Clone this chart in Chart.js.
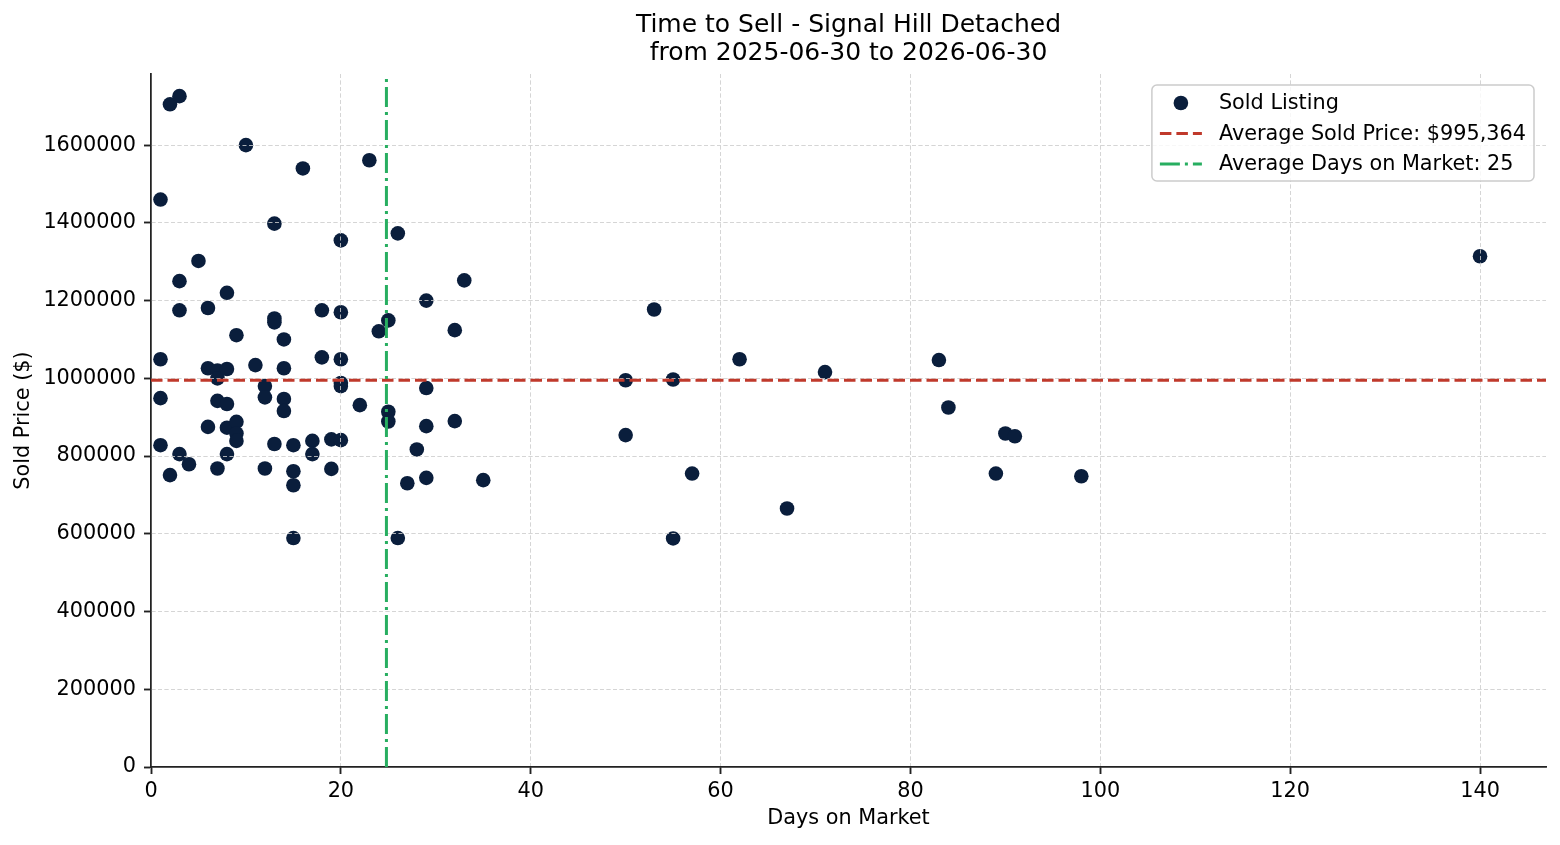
<!DOCTYPE html>
<html>
<head>
<meta charset="utf-8">
<title>Time to Sell - Signal Hill Detached</title>
<script src="https://cdn.jsdelivr.net/npm/chart.js@4.4.1/dist/chart.umd.min.js"></script>
<style>
  html, body { margin: 0; padding: 0; background: #fff; }
  #wrap { width: 1560px; height: 845px; }
</style>
</head>
<body>
<div id="wrap"><canvas id="myChart" width="1560" height="845"></canvas></div>
<script>
// days on market / sold price, one entry per sold listing
const days = [
  1, 1, 1, 1, 2, 2, 3, 3, 3, 3, 4, 5, 6, 6, 6, 7, 7, 7, 7, 8, 8, 8, 8, 8,
  9, 9, 9, 9, 10, 11, 12, 12, 12, 13, 13, 13, 13, 14, 14, 14, 14, 15, 15, 15, 15,
  16, 17, 17, 18, 18, 19, 19, 20, 20, 20, 20, 20, 20, 22, 23, 24, 25, 25, 25,
  26, 26, 27, 28, 29, 29, 29, 29, 32, 32, 33, 35, 50, 50, 53, 55, 55, 57, 62,
  67, 71, 83, 84, 89, 90, 91, 98, 140,
];
const prices = [
  1460000, 1049000, 949000, 828000, 1705000, 751000, 1726000, 1250000, 1175000, 805000,
  779000, 1302000, 1181000, 1026000, 875000, 1020000, 1000000, 942000, 768000,
  1220000, 1024000, 934000, 873000, 805000, 1111000, 888000, 858000, 839000,
  1600000, 1034000, 980000, 951000, 768000, 1398000, 1154000, 1144000, 831000,
  1100000, 1026000, 947000, 916000, 828000, 761000, 725000, 589000, 1540000,
  839000, 805000, 1175000, 1054000, 843000, 767000,
  1355000, 1170000, 1049000, 988000, 980000, 841000, 931000, 1561000, 1121000,
  1149000, 914000, 889000, 1373000, 589000, 730000, 817000,
  1200000, 975000, 877000, 744000, 1124000, 890000, 1252000, 738000,
  995000, 854000, 1177000, 997000, 588000, 755000, 1049000, 665000, 1016000,
  1047000, 925000, 755000, 858000, 851000, 748000, 1314000,
];
const avgPrice = 995364;
const avgDays = 24.8;
const xTicks = [0, 20, 40, 60, 80, 100, 120, 140];
const yTicks = [0, 200000, 400000, 600000, 800000, 1000000, 1200000, 1400000, 1600000];
const xMax = 146.95;
const yMax = 1783000;

const FONT = '"DejaVu Sans", "Liberation Sans", sans-serif';
Chart.defaults.font.family = FONT;
Chart.defaults.font.size = 20.8;
Chart.defaults.color = "#000";

const gridColor = (ctx) => (ctx.tick && ctx.tick.value === 0 ? "rgba(0,0,0,0)" : "#d4d4d4");

// matplotlib draws the grid above the scatter dots but below the average lines
const gridOverPoints = {
  id: "gridOverPoints",
  beforeDatasetDraw(chart, args) {
    if (args.index !== 1) return;
    const { x, y } = chart.scales;
    x.drawGrid(chart.chartArea);
    y.drawGrid(chart.chartArea);
    x.drawBorder();
    y.drawBorder();
  },
};

const legendBox = {
  id: "legendBox",
  afterDraw(chart) {
    const { ctx, chartArea } = chart;
    const items = chart.data.datasets;
    ctx.save();
    ctx.font = "20.8px " + FONT;
    const textW = Math.max(...items.map((d) => ctx.measureText(d.label).width));
    const w = textW + 75;
    const h = 96;
    const x = chartArea.right - 12 - w;
    const y = chartArea.top + 11;

    ctx.beginPath();
    ctx.roundRect(x, y, w, h, 5);
    ctx.fillStyle = "rgba(255,255,255,0.8)";
    ctx.fill();
    ctx.strokeStyle = "#cccccc";
    ctx.lineWidth = 1.5;
    ctx.stroke();

    items.forEach((d, i) => {
      const cy = y + 18 + i * 30.5;
      if (d.showLine) {
        ctx.beginPath();
        ctx.setLineDash(d.borderDash || []);
        ctx.strokeStyle = d.borderColor;
        ctx.lineWidth = d.borderWidth;
        ctx.moveTo(x + 8, cy);
        ctx.lineTo(x + 50, cy);
        ctx.stroke();
        ctx.setLineDash([]);
      } else {
        ctx.beginPath();
        ctx.arc(x + 29, cy, d.pointRadius, 0, Math.PI * 2);
        ctx.fillStyle = d.backgroundColor;
        ctx.fill();
      }
      ctx.fillStyle = "#000";
      ctx.textBaseline = "middle";
      ctx.textAlign = "left";
      ctx.fillText(d.label, x + 67, cy + 1);
    });
    ctx.restore();
  },
};

const ctx = document.getElementById("myChart");

new Chart(ctx, {
  type: "scatter",
  data: {
    datasets: [
      {
        label: "Sold Listing",
        data: days.map((d, i) => ({ x: d, y: prices[i] })),
        backgroundColor: "#0a1e3c",
        borderWidth: 0,
        pointRadius: 7.3,
        order: 3,
      },
      {
        label: "Average Sold Price: $" + avgPrice.toLocaleString("en-US"),
        data: [{ x: 0, y: avgPrice }, { x: xMax, y: avgPrice }],
        showLine: true,
        borderColor: "#c0392b",
        borderWidth: 3,
        borderDash: [11.5, 5],
        pointRadius: 0,
        order: 2,
      },
      {
        label: "Average Days on Market: " + Math.round(avgDays),
        data: [{ x: avgDays, y: 0 }, { x: avgDays, y: yMax }],
        showLine: true,
        borderColor: "#27ae60",
        borderWidth: 3,
        borderDash: [20, 5, 3, 5],
        pointRadius: 0,
        order: 1,
      },
    ],
  },
  options: {
    responsive: false,
    animation: false,
    devicePixelRatio: 1,
    layout: { padding: { left: 0, right: 14, top: 0, bottom: 0 } },
    plugins: {
      legend: { display: false },
      tooltip: { enabled: false },
      title: {
        display: true,
        fullSize: false,
        text: ["Time to Sell - Signal Hill Detached", "from 2025-06-30 to 2026-06-30"],
        color: "#000",
        font: { size: 25, weight: "normal", lineHeight: 1.12 },
        padding: { top: 11, bottom: 7 },
      },
    },
    scales: {
      x: {
        type: "linear",
        min: 0,
        max: xMax,
        afterBuildTicks: (axis) => {
          axis.ticks = xTicks.map((v) => ({ value: v }));
        },
        afterFit: (scale) => {
          scale.height = 78;
        },
        ticks: { padding: 5, color: "#000", callback: (v) => String(v) },
        grid: {
          color: gridColor,
          lineWidth: 0.8,
          tickLength: 7,
          tickColor: "#222",
          tickWidth: 1.5,
        },
        border: { display: true, color: "#222", width: 1.5, dash: [4, 2.5] },
        title: {
          display: true,
          text: "Days on Market",
          color: "#000",
          padding: { top: 0, bottom: 14 },
        },
      },
      y: {
        type: "linear",
        min: 0,
        max: yMax,
        afterBuildTicks: (axis) => {
          axis.ticks = yTicks.map((v) => ({ value: v }));
        },
        afterFit: (scale) => {
          scale.width = 151;
        },
        ticks: { padding: 8, color: "#000", callback: (v) => String(v) },
        grid: {
          color: gridColor,
          lineWidth: 0.8,
          tickLength: 7,
          tickColor: "#222",
          tickWidth: 1.5,
        },
        border: { display: true, color: "#222", width: 1.5, dash: [4, 2.5] },
        title: {
          display: true,
          text: "Sold Price ($)",
          color: "#000",
          padding: { top: 11, bottom: 0 },
        },
      },
    },
  },
  plugins: [gridOverPoints, legendBox],
});
</script>
</body>
</html>
